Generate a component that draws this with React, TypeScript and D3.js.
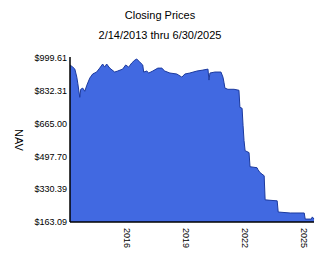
import React from "react";
import * as d3 from "d3";

const title = "Closing Prices";
const subtitle = "2/14/2013 thru 6/30/2025";
const yLabel = "NAV";

const dates: string[] = [
  "2013-02-14","2013-04-08","2013-05-15","2013-06-20","2013-07-08","2013-08-14","2013-09-01","2013-10-08",
  "2013-11-15","2013-12-23","2014-02-15","2014-04-10","2014-06-22","2014-08-18","2014-10-12","2014-11-18",
  "2014-12-25","2015-02-20","2015-05-22","2015-07-16","2015-10-18","2015-12-12","2016-02-06","2016-04-02",
  "2016-05-30","2016-07-05","2016-08-29","2016-10-23","2016-11-10","2017-01-06","2017-02-12","2017-04-26",
  "2017-07-30","2017-10-11","2017-12-05","2018-03-10","2018-07-16","2018-10-18","2018-12-12","2019-03-14",
  "2019-07-22","2019-11-10","2020-02-13","2020-03-03","2020-03-21","2020-06-20","2020-10-11","2020-11-17",
  "2020-12-05","2020-12-23","2021-02-17","2021-06-10","2021-09-09","2021-09-27","2021-11-06","2021-11-24",
  "2021-12-12","2022-01-01","2022-03-15","2022-04-02","2022-08-10","2022-08-28","2022-10-04","2022-12-20",
  "2023-01-07","2023-08-18","2023-09-06","2024-04-16","2024-12-31","2025-01-18","2025-05-12","2025-05-30",
  "2025-06-30"
];

const nav: number[] = [
  964, 953, 943, 902, 871, 799, 840, 846,
  830, 861, 897, 918, 928, 948, 969, 953,
  969, 948, 928, 933, 943, 964, 953, 974,
  989, 994, 979, 964, 928, 933, 923, 933,
  948, 948, 933, 923, 918, 902, 918, 923,
  933, 938, 943, 887, 923, 928, 928, 902,
  876, 846, 840, 840, 835, 748, 743, 656,
  579, 527, 517, 445, 440, 430, 415, 399,
  276, 271, 214, 209, 209, 178, 178, 189,
  178
];

const yTicks: number[] = [163.09, 330.39, 497.7, 665.0, 832.31, 999.61];
const xTickYears: number[] = [2016, 2019, 2022, 2025];

const W = 324;
const H = 267;
const left = 70;
const right = 314;
const top = 58;
const bottom = 222;

export default function App() {
  const parse = d3.timeParse("%Y-%m-%d");
  const data = dates.map((d, i) => ({ date: parse(d) as Date, v: nav[i] }));

  const x = d3
    .scaleTime()
    .domain([parse("2013-02-14") as Date, parse("2025-06-30") as Date])
    .range([left, right]);
  const y = d3.scaleLinear().domain([yTicks[0], yTicks[yTicks.length - 1]]).range([bottom, top]);

  const area = d3
    .area<{ date: Date; v: number }>()
    .x((d) => x(d.date))
    .y0(bottom)
    .y1((d) => y(d.v));
  const line = d3
    .line<{ date: Date; v: number }>()
    .x((d) => x(d.date))
    .y((d) => y(d.v));

  const font = "'Liberation Sans', Arial, sans-serif";

  return (
    <svg
      width={W}
      height={H}
      style={{ position: "absolute", left: 0, top: 0, background: "#fff" }}
      fontFamily={font}
    >
      <text x={160} y={19} textAnchor="middle" fontSize={11} fill="#000">
        {title}
      </text>
      <text x={160} y={39} textAnchor="middle" fontSize={11} fill="#000">
        {subtitle}
      </text>

      <path d={area(data) || ""} fill="#4169e1" />
      <path d={line(data) || ""} fill="none" stroke="#1c3a9e" strokeWidth={1} />

      <line x1={left} x2={left} y1={top - 1} y2={bottom} stroke="#000" strokeWidth={1.5} />
      <line x1={left} x2={right} y1={bottom} y2={bottom} stroke="#000" strokeWidth={1.5} />

      {yTicks.map((t) => (
        <text key={t} x={67} y={y(t)} dy="0.35em" textAnchor="end" fontSize={9} fill="#000">
          {"$" + t.toFixed(2)}
        </text>
      ))}

      {xTickYears.map((yr) => (
        <text
          key={yr}
          transform={`translate(${x(new Date(yr, 0, 1))},228) rotate(90)`}
          dy="0.35em"
          textAnchor="start"
          fontSize={9}
          fill="#000"
        >
          {yr}
        </text>
      ))}

      <text
        transform={`translate(19,${(top + bottom) / 2}) rotate(90)`}
        textAnchor="middle"
        dy="0.35em"
        fontSize={11}
        fill="#000"
      >
        {yLabel}
      </text>
    </svg>
  );
}
